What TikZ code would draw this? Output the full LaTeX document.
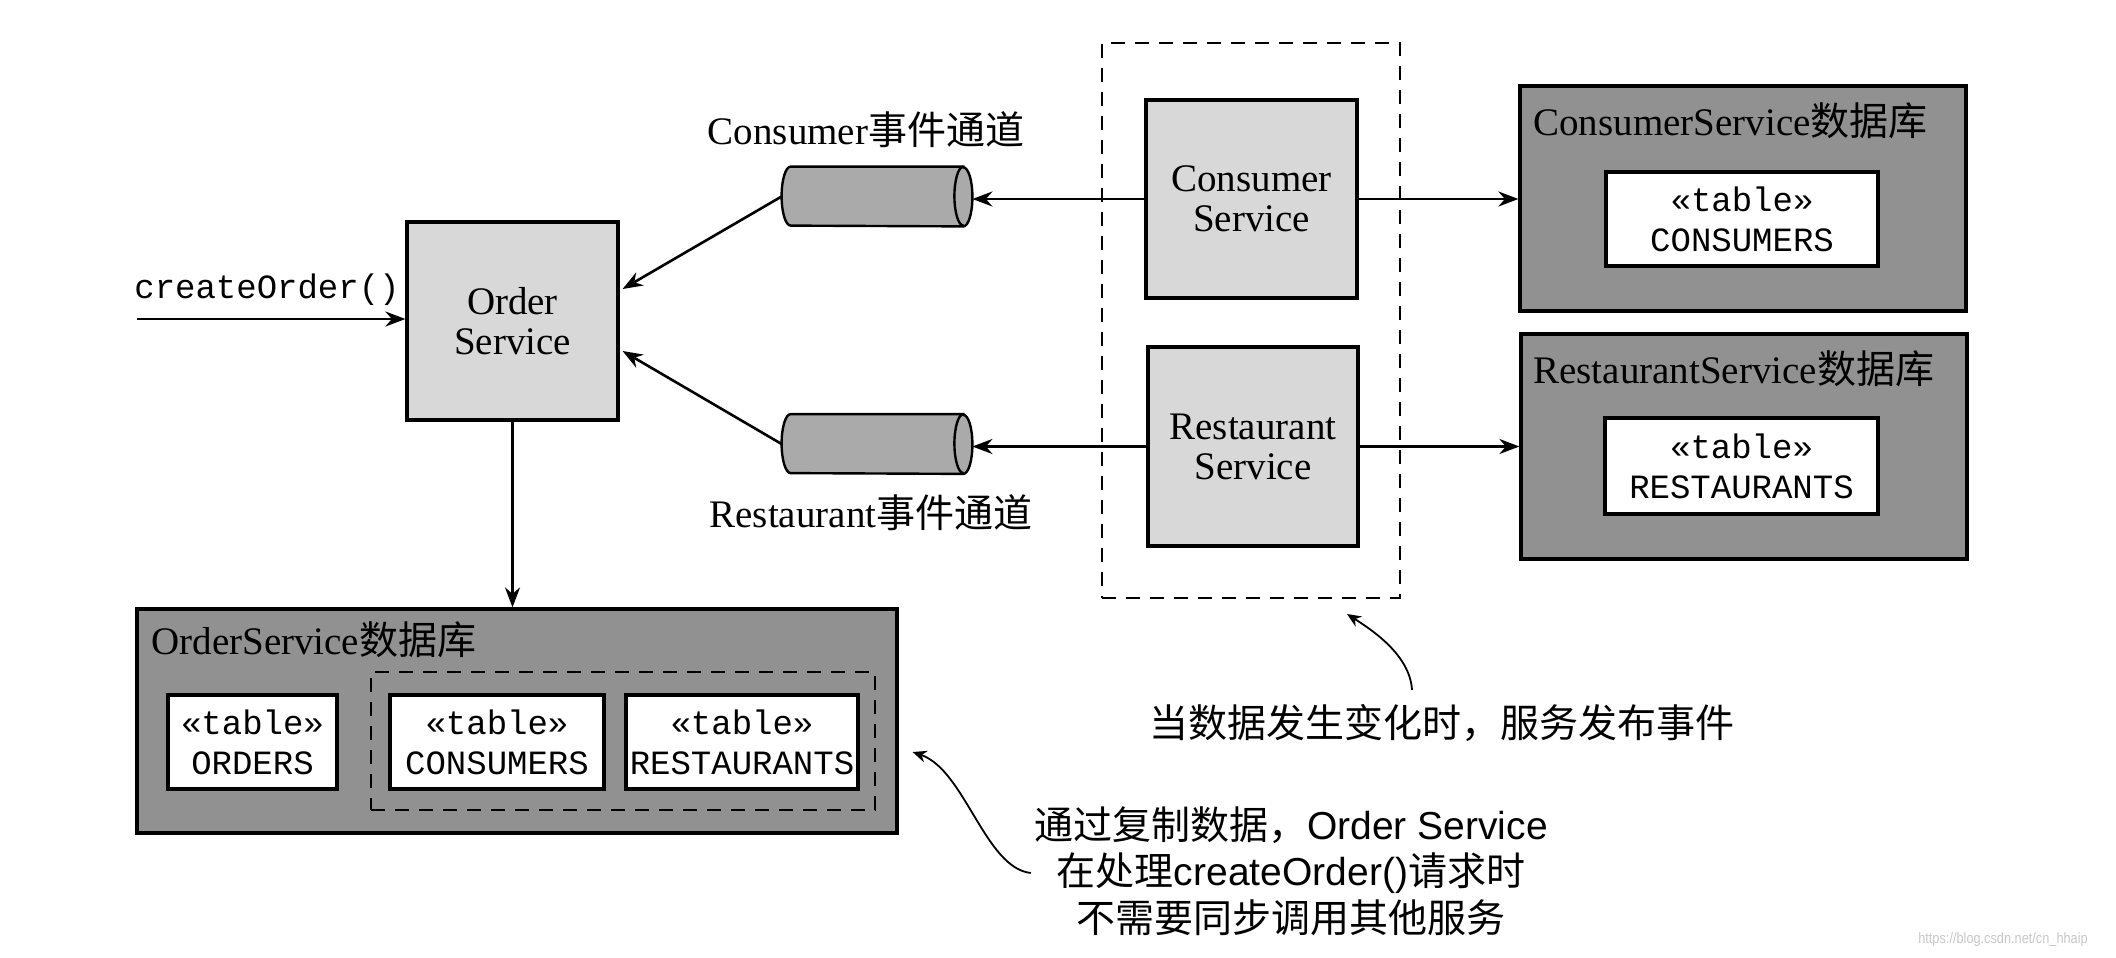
\documentclass[tikz,border=0pt]{standalone}
\usepackage{fontspec}
\setmainfont{Liberation Serif}
\setmonofont{Liberation Mono}
\newfontfamily\cjk{Noto Sans CJK SC}
\newfontfamily\lsans{Liberation Sans}
\usetikzlibrary{shapes.geometric,arrows.meta,calc,fit}
\definecolor{svcfill}{RGB}{216,216,216}
\definecolor{chanfill}{RGB}{170,170,170}
\definecolor{dbfill}{RGB}{145,145,145}
\definecolor{wmgray}{RGB}{200,200,200}
\newcommand\fsvc{\fontsize{19.5}{20}\selectfont}
\newcommand\fmonotxt{\ttfamily\fontsize{17}{20}\selectfont}
\newcommand\fnote{\lsans\fontsize{19.5}{23.3}\selectfont}
\newcommand\drawchan[1]{%
  \draw[line width=1.2pt, fill=chanfill]
    ($(#1.north east)+(-9,0)$) -- ($(#1.north west)+(9,0)$)
    arc[start angle=90, end angle=270, x radius=4.5pt, y radius=14.75pt]
    -- ($(#1.south east)+(-9,0)$)
    arc[start angle=-90, end angle=90, x radius=4.5pt, y radius=14.75pt] -- cycle;
  \draw[line width=1.2pt] ($(#1.north east)+(-9,0)$)
    arc[start angle=90, end angle=270, x radius=4.5pt, y radius=14.75pt];}
\begin{document}
\begin{tikzpicture}[x=0.5pt,y=-0.5pt,
  svc/.style={draw, line width=1.6pt, fill=svcfill, inner sep=0pt, align=center, font=\fsvc},
  db/.style={draw, line width=1.6pt, fill=dbfill, inner sep=0pt},
  tbl/.style={draw, line width=1.6pt, fill=white, inner sep=0pt, align=center, font=\fmonotxt, minimum height=47pt},
  chan/.style={shape=rectangle, inner sep=0pt, minimum width=95pt, minimum height=29.5pt},
  lbl/.style={font=\fsvc, inner sep=0pt},
  arr/.style={line width=1.3pt, -{Stealth[length=10pt,width=7.5pt]}},
  narr/.style={line width=0.9pt, -{Stealth[length=7pt,width=6pt]}},
  grp/.style={draw, line width=1pt, dash pattern=on 7pt off 5pt, inner sep=0pt},
  note/.style={font=\fnote, align=center, inner sep=0pt}
]
\useasboundingbox[fill=white] (0,0) rectangle (2116,958);

% Order Service
\node[svc, minimum width=105.5pt, minimum height=99pt] (os) at (512.5,321) {Order\\Service};
\node[font=\fmonotxt, inner sep=0pt] (co) at (267,290) {createOrder()};
\coordinate (inS) at (137,319);
\draw[arr] (inS) -- (inS -| os.west);

% publisher group
\node[grp, fit={(1102,43) (1400,598)}] (pub) {};
\node[svc, minimum width=105.5pt, minimum height=99pt] (cs) at (1251.5,199) {Consumer\\Service};
\node[svc, minimum width=105pt, minimum height=99.5pt] (rs) at (1253,446.5) {Restaurant\\Service};

% channels
\node[chan] (cch) at (877,196.5) {};
\node[chan] (rch) at (877,444) {};
\drawchan{cch}
\drawchan{rch}
\node[lbl] (cchl) at (866,130) {Consumer{\cjk 事件通道}};
\node[lbl] (rchl) at (871,513) {Restaurant{\cjk 事件通道}};

% Consumer DB
\node[db, minimum width=223pt, minimum height=112.5pt] (cdb) at (1743,198.5) {};
\node[lbl, anchor=west] (cdbl) at (1533,121) {ConsumerService{\cjk 数据库}};
\node[tbl, minimum width=136pt] (ctab) at (1742,219) {«table»\\CONSUMERS};

% Restaurant DB
\node[db, minimum width=223pt, minimum height=112.5pt] (rdb) at (1744,446.5) {};
\node[lbl, anchor=west] (rdbl) at (1533,369) {RestaurantService{\cjk 数据库}};
\node[tbl, minimum width=136.5pt, minimum height=48pt] (rtab) at (1741.5,466) {«table»\\RESTAURANTS};

% Order DB
\node[db, minimum width=380pt, minimum height=112pt] (odb) at (517,721) {};
\node[lbl, anchor=west] (odbl) at (151,640) {OrderService{\cjk 数据库}};
\node[tbl, minimum width=84.5pt] (otab) at (252.5,742) {«table»\\ORDERS};
\node[grp, line width=1.4pt, fit={(371,672) (875,810)}] (rep) {};
\node[tbl, minimum width=107pt] (octab) at (497,742) {«table»\\CONSUMERS};
\node[tbl, minimum width=116pt] (ortab) at (742,742) {«table»\\RESTAURANTS};

% connectors
\draw[arr] (cs.east) -- (cs.east -| cdb.west);
\draw[arr] (rs.east) -- (rs.east -| rdb.west);
\draw[arr] (cs.west) -- (cs.west -| cch.east);
\draw[arr] (rs.west) -- (rs.west -| rch.east);
\draw[arr] (cch.west) -- ($(os.east)+(3,-32)$);
\draw[arr] (rch.west) -- ($(os.east)+(3,30)$);
\draw[arr] (os.south) -- (os.south |- odb.north);

% notes
\node[note] (n1) at (1291,871) {{\cjk 通过复制数据，}Order Service\\{\cjk 在处理}createOrder(){\cjk 请求时}\\{\cjk 不需要同步调用其他服务}};
\node[note] (n2) at (1442,723) {{\cjk 当数据发生变化时，服务发布事件}};
\draw[narr] ($(n1.west)+(-3,2)$) .. controls (985,868) and (965,770) .. ($(odb.east)+(14,31)$);
\draw[narr] ($(n2.north)+(-30,-14)$) .. controls (1410,655) and (1372,630) .. ($(pub.south east)+(-54,15)$);

% watermark
\node[font=\lsans\fontsize{7.5}{8}\selectfont, text=wmgray, inner sep=0pt, xscale=0.85] (wm) at (2003,940) {https://blog.csdn.net/cn\_hhaip};
\end{tikzpicture}
\end{document}
